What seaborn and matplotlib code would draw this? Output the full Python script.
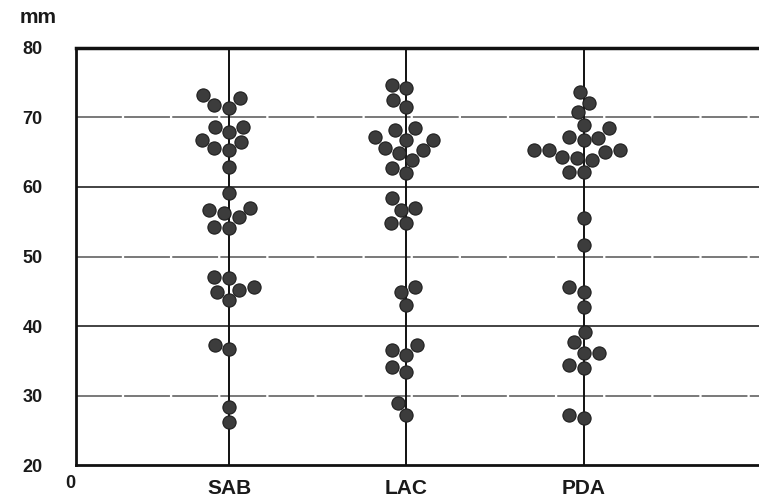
import matplotlib
matplotlib.use("Agg")
import matplotlib.pyplot as plt
import seaborn as sns
import pandas as pd

categories = ["SAB", "LAC", "PDA"]
sab = [73.2, 72.8, 71.8, 71.4, 68.6, 68.6, 67.9, 66.8, 66.5, 65.6, 65.3, 62.9,
       59.1, 57.0, 56.7, 56.3, 55.7, 54.2, 54.1,
       47.1, 46.9, 45.6, 45.2, 44.9, 43.7, 37.3, 36.7, 28.3, 26.2]
lac = [74.7, 74.2, 72.5, 71.5, 68.5, 68.2, 67.2, 66.8, 66.8, 65.6, 65.3, 64.9,
       63.9, 62.7, 62.0, 58.4, 57.0, 56.7, 54.8, 54.8,
       45.6, 44.9, 43.0, 37.3, 36.5, 35.8, 34.1, 33.4, 28.9, 27.2]
pda = [73.7, 72.1, 70.8, 68.9, 68.5, 67.2, 67.1, 66.8, 65.3, 65.3, 65.3, 65.0,
       64.3, 64.2, 63.9, 62.2, 62.2, 55.5, 51.7,
       45.6, 44.9, 42.7, 39.1, 37.7, 36.1, 36.1, 34.4, 34.0, 27.2, 26.8]
y_ticks = [20, 30, 40, 50, 60, 70, 80]

df = pd.DataFrame({
    "group": ["SAB"] * len(sab) + ["LAC"] * len(lac) + ["PDA"] * len(pda),
    "mm": sab + lac + pda,
})

sns.set_style("white")
plt.rcParams["font.family"] = ["Liberation Sans", "DejaVu Sans"]

fig = plt.figure(figsize=(7.59, 5.03), dpi=100)
ax = fig.add_axes([0.1001, 0.0755, 0.8999, 0.8291])

# grid lines
for yv in [30, 50, 70]:
    ax.axhline(yv, color="#555555", lw=1.1, ls=(0, (30, 1.5)), zorder=1)
for yv in [40, 60]:
    ax.axhline(yv, color="#222222", lw=1.2, zorder=1)
for i in range(len(categories)):
    ax.axvline(i, color="#111111", lw=1.4, zorder=1)

sns.swarmplot(data=df, x="group", y="mm", order=categories, ax=ax,
              size=9.5, color="#3c3c3c", edgecolor="#1e1e1e", linewidth=0.8,
              zorder=3, warn_thresh=1.0)

ax.set_xlim(-0.864, 2.99)
ax.set_ylim(20, 80)
ax.set_yticks(y_ticks)
ax.set_yticklabels([str(v) for v in y_ticks], fontsize=13, fontweight="bold",
                   color="#1a1a1a")
ax.set_xticks(range(len(categories)))
ax.set_xticklabels(categories, fontsize=15, fontweight="bold", color="#1a1a1a")
ax.tick_params(axis="y", length=0, pad=24)
ax.tick_params(axis="x", length=0, pad=10)
ax.set_xlabel("")
ax.set_ylabel("")

for s in ["left", "bottom"]:
    ax.spines[s].set_linewidth(2.0)
    ax.spines[s].set_color("#111111")
ax.spines["top"].set_linewidth(2.5)
ax.spines["top"].set_color("#111111")
ax.spines["right"].set_visible(False)

fig.text(0.092, 0.038, "0", fontsize=13, fontweight="bold", color="#1a1a1a",
         ha="center", va="center")
fig.text(0.026, 0.965, "mm", fontsize=15, fontweight="bold", color="#1a1a1a",
         ha="left", va="center")

fig.savefig("out.png", dpi=100, facecolor="white")
